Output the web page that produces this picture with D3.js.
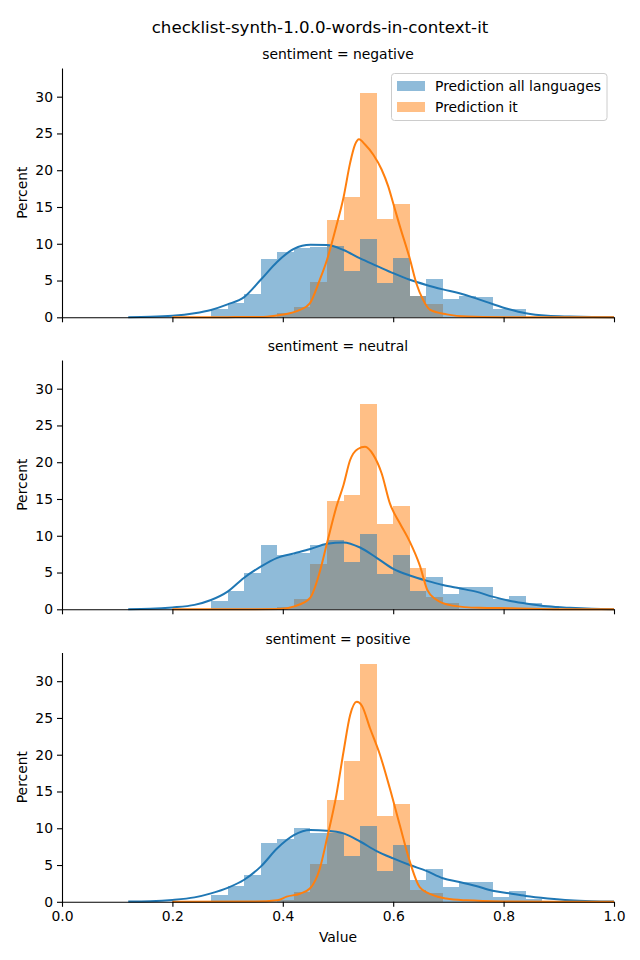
<!DOCTYPE html>
<html><head><meta charset="utf-8">
<script src="https://cdn.jsdelivr.net/npm/d3@7"></script>
<style>body{margin:0;background:#fff}svg{display:block}text{font-family:"DejaVu Sans",sans-serif}</style>
</head><body><svg id="c" width="640" height="960"></svg>
<script>
// ---- data ----
const title = "checklist-synth-1.0.0-words-in-context-it";
const panelTitles = ["sentiment = negative", "sentiment = neutral", "sentiment = positive"];
const seriesNames = ["Prediction all languages", "Prediction it"];
const binWidth = 0.03;
const binLefts = [0.27,0.30,0.33,0.36,0.39,0.42,0.45,0.48,0.51,0.54,0.57,0.60,0.63,0.66,0.69,0.72,0.75,0.78,0.81,0.84,0.87];
const histAllNeg = [1.09,1.99,3.17,7.93,8.88,9.38,9.6,9.74,6.3,10.65,4.7,8.06,2.9,5.2,2.5,2.9,2.7,1.09,1.09,0,0];
const histAllNeu = [1.13,2.49,4.98,8.74,7.4,7.7,8.74,9.42,6.43,10.24,4.85,7.38,2.49,4.39,2.08,3.03,3.03,1.4,1.81,0.8,0.5];
const histAllPos = [0.9,2.1,3.7,8.0,8.5,10.1,9.4,9.3,6.2,10.3,4.2,7.7,2.9,4.5,2.05,2.7,2.7,0.7,1.47,0.4,0];
const histItNeg = [0,0,0,0,0.54,1.4,4.85,13.2,16.36,30.5,13.37,15.4,2.9,1.8,0,0,0,0,0,0,0];
const histItNeu = [0,0,0,0,0.3,1.36,6.16,14.73,15.54,27.92,11.6,14.06,5.62,1.72,0.86,0,0,0,0,0,0];
const histItPos = [0,0,0,0,0.3,1.37,5.1,13.8,19.2,32.3,11.6,13.3,1.6,1.15,0,0,0,0,0,0,0];

const kdeAllX = [0.12,0.16,0.2,0.24,0.27,0.30,0.33,0.36,0.39,0.42,0.45,0.48,0.51,0.54,0.57,0.60,0.63,0.66,0.69,0.72,0.75,0.78,0.81,0.84,0.88,0.92,0.96,1.0];
const kdeAllNeg = [0.02,0.06,0.2,0.55,1.0,1.75,2.75,5.1,7.56,9.3,9.85,9.83,9.15,8.0,7.0,6.0,5.1,4.4,3.8,3.26,2.58,1.8,1.09,0.54,0.2,0.1,0.04,0.01];
const kdeAllNeu = [0.02,0.07,0.25,0.6,1.26,2.4,4.3,5.8,7.0,7.6,8.2,8.9,9.1,8.4,7.0,5.5,4.6,3.9,3.3,2.85,2.4,1.72,1.17,0.8,0.4,0.2,0.07,0.02];
const kdeAllPos = [0.03,0.08,0.25,0.6,1.15,1.9,3.0,4.78,7.27,9.05,9.75,9.67,9.3,8.2,6.9,5.9,5.0,4.2,3.2,2.7,2.15,1.5,1.15,0.79,0.45,0.2,0.08,0.03];

const kdeItNegX = [0.2,0.3,0.365,0.395,0.431,0.449,0.467,0.48,0.497,0.51,0.522,0.531,0.538,0.549,0.564,0.579,0.591,0.60,0.612,0.63,0.642,0.654,0.667,0.697,0.733,0.8,0.9,1.0];
const kdeItNeg = [0,0.02,0.05,0.3,1.0,1.9,5.1,7.8,12.4,16.3,21,23.5,24.2,23.5,22.1,20.1,17.8,15.5,12.4,8.0,4.6,2.4,1.0,0.4,0.1,0.02,0,0];
const kdeItNeuX = [0.2,0.35,0.395,0.421,0.449,0.467,0.48,0.497,0.51,0.522,0.536,0.549,0.564,0.579,0.594,0.612,0.63,0.648,0.662,0.677,0.707,0.755,0.815,0.9,1.0];
const kdeItNeu = [0,0.02,0.05,0.4,1.5,5.1,8.97,13.9,16.9,20.3,21.8,22.1,21.0,18.5,14.4,11.7,9.2,6.0,2.6,1.36,0.5,0.2,0.15,0.02,0];
const kdeItPosX = [0.2,0.35,0.39,0.407,0.431,0.449,0.467,0.48,0.497,0.51,0.522,0.534,0.543,0.558,0.576,0.594,0.612,0.63,0.648,0.672,0.696,0.733,0.8,0.9,1.0];
const kdeItPos = [0,0.03,0.2,0.7,1.1,1.8,4.5,8.6,14.5,20.4,25.4,27.2,26.7,23.6,20,15.4,10.4,5.5,2.0,0.9,0.45,0.2,0.05,0,0];

const xTicks = [0,0.2,0.4,0.6,0.8,1.0];
const yTicks = [0,5,10,15,20,25,30];
const yMax = 33.9;

const panels = [
  {title: panelTitles[0], all: histAllNeg, it: histItNeg, kAll: kdeAllNeg, kItX: kdeItNegX, kIt: kdeItNeg},
  {title: panelTitles[1], all: histAllNeu, it: histItNeu, kAll: kdeAllNeu, kItX: kdeItNeuX, kIt: kdeItNeu},
  {title: panelTitles[2], all: histAllPos, it: histItPos, kAll: kdeAllPos, kItX: kdeItPosX, kIt: kdeItPos}
];

// ---- drawing ----
const blue = "#1f77b4", orange = "#ff7f0e";
const svg = d3.select("#c");
const x = d3.scaleLinear().domain([0,1]).range([62,614]);
const tops = [68, 360, 652.5];
const ph = 249.3;

svg.append("text").attr("x", 320).attr("y", 33).attr("text-anchor","middle")
  .attr("font-size","16.67px").text(title);

panels.forEach((p, i) => {
  const top = tops[i], bottom = top + ph;
  const y = d3.scaleLinear().domain([0, yMax]).range([bottom, top]);
  const g = svg.append("g");

  const drawHist = (vals, color) => {
    g.append("g").attr("shape-rendering", "crispEdges").selectAll("rect")
      .data(binLefts.map((b, j) => ({b, v: vals[j]})).filter(d => d.v > 0))
      .join("rect")
      .attr("x", d => x(d.b)).attr("width", d => x(d.b + binWidth) - x(d.b))
      .attr("y", d => y(d.v)).attr("height", d => y(0) - y(d.v))
      .attr("fill", color).attr("fill-opacity", 0.5);
  };
  drawHist(p.it, orange);
  drawHist(p.all, blue);

  const line = d3.line().x(d => x(d[0])).y(d => y(d[1])).curve(d3.curveMonotoneX);
  g.append("path").datum(kdeAllX.map((v, j) => [v, p.kAll[j]]))
    .attr("d", line).attr("fill","none").attr("stroke", blue).attr("stroke-width", 2);
  g.append("path").datum(p.kItX.map((v, j) => [v, p.kIt[j]]))
    .attr("d", line).attr("fill","none").attr("stroke", orange).attr("stroke-width", 2);

  // axes
  const ay = g.append("g").attr("transform", `translate(62,0)`)
    .call(d3.axisLeft(y).tickValues(yTicks).tickSize(5).tickPadding(4).tickSizeOuter(0));
  const ax = g.append("g").attr("transform", `translate(0,${bottom})`)
    .call(d3.axisBottom(x).tickValues(xTicks).tickSize(5).tickPadding(4).tickSizeOuter(0)
      .tickFormat(i === 2 ? d3.format(".1f") : () => ""));
  [ay, ax].forEach(a => {
    a.attr("font-family", "DejaVu Sans").attr("font-size", "13.9px");
    a.selectAll("text").attr("fill", "#000");
    a.selectAll("line,path").attr("stroke", "#000").attr("stroke-width", 1.1);
  });

  svg.append("text").attr("x", 338).attr("y", top - 9).attr("text-anchor","middle")
    .attr("font-size","13.9px").text(p.title);
  svg.append("text").attr("transform", `translate(27,${(top+bottom)/2}) rotate(-90)`)
    .attr("text-anchor","middle").attr("font-size","13.9px").text("Percent");
});

svg.append("text").attr("x", 338).attr("y", 942).attr("text-anchor","middle")
  .attr("font-size","13.9px").text("Value");

// legend
const lg = svg.append("g");
lg.append("rect").attr("x", 391.5).attr("y", 73.5).attr("width", 215.5).attr("height", 47)
  .attr("rx", 3).attr("fill", "#fff").attr("fill-opacity", 0.8).attr("stroke", "#ccc").attr("stroke-width", 1);
[blue, orange].forEach((c, k) => {
  lg.append("rect").attr("x", 397).attr("y", 81 + k*21).attr("width", 28).attr("height", 10)
    .attr("fill", c).attr("fill-opacity", 0.5);
  lg.append("text").attr("x", 435).attr("y", 91 + k*21).attr("font-size","13.9px").text(seriesNames[k]);
});
</script></body></html>
